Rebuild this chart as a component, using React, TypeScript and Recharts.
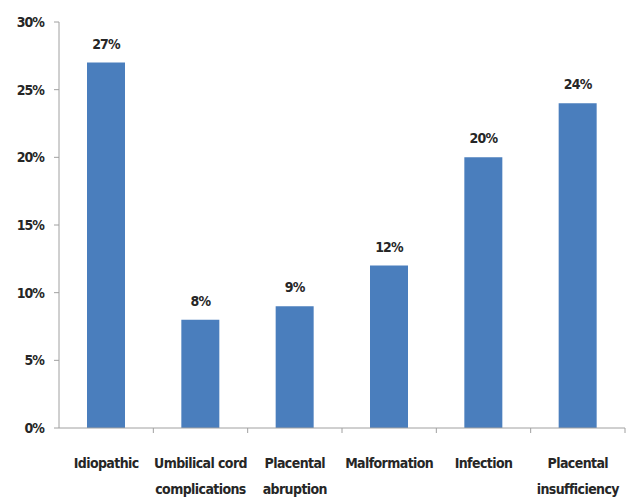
import React from 'react';
import { BarChart, Bar, XAxis, YAxis, LabelList } from 'recharts';

const CATEGORIES = [
  'Idiopathic',
  'Umbilical cord complications',
  'Placental abruption',
  'Malformation',
  'Infection',
  'Placental insufficiency',
];
const PERCENTS = [27, 8, 9, 12, 20, 24];
const Y_TICKS = [0, 5, 10, 15, 20, 25, 30];

const data = CATEGORIES.map((name, i) => ({ name, value: PERCENTS[i] }));

const FONT = '"Liberation Sans Narrow", "Arial Narrow", "DejaVu Sans Condensed", sans-serif';
const TEXT = '#262626';
const AXIS = '#a0a0a0';

// wrap a label into lines of at most 14 chars
const wrap = (s: string) => {
  const lines: string[] = [];
  let cur = '';
  s.split(' ').forEach((w) => {
    const next = cur ? cur + ' ' + w : w;
    if (next.length > 14 && cur) {
      lines.push(cur);
      cur = w;
    } else cur = next;
  });
  if (cur) lines.push(cur);
  return lines;
};

const XTick = (props: any) => {
  const { x, y, payload } = props;
  const band = 566 / CATEGORIES.length;
  const lines = wrap(payload.value);
  return (
    <g>
      <line x1={x + band / 2} x2={x + band / 2} y1={y - 8} y2={y - 3} stroke={AXIS} />
      <text
        x={x}
        y={y + 32}
        textAnchor="middle"
        fontFamily={FONT}
        fontWeight="bold"
        fontSize={14}
        letterSpacing={-0.6}
        fill={TEXT}
      >
        {lines.map((l, i) => (
          <tspan key={i} x={x} dy={i === 0 ? 0 : 26}>
            {l}
          </tspan>
        ))}
      </text>
    </g>
  );
};

export default function App() {
  return (
    <div style={{ position: 'absolute', left: 0, top: 0, background: '#fff' }}>
      <BarChart width={629} height={498} data={data} margin={{ top: 22, right: 4, bottom: 0, left: 0 }}>
        <XAxis
          dataKey="name"
          height={70}
          interval={0}
          tickLine={false}
          axisLine={{ stroke: AXIS }}
          tick={<XTick />}
        />
        <YAxis
          width={59}
          domain={[0, 30]}
          ticks={Y_TICKS}
          tickFormatter={(v) => `${v}%`}
          tickSize={5}
          tickMargin={10}
          axisLine={{ stroke: AXIS }}
          tickLine={{ stroke: AXIS }}
          tick={{ fontFamily: FONT, fontWeight: 'bold', fontSize: 14, fill: TEXT, letterSpacing: -1 }}
        />
        <Bar dataKey="value" fill="#4a7ebd" barSize={38} isAnimationActive={false}>
          <LabelList
            dataKey="value"
            position="top"
            offset={14}
            formatter={(v: any) => `${v}%`}
            style={{ fontFamily: FONT, fontWeight: 'bold', fontSize: 14, fill: TEXT, letterSpacing: -0.8 }}
          />
        </Bar>
      </BarChart>
    </div>
  );
}
